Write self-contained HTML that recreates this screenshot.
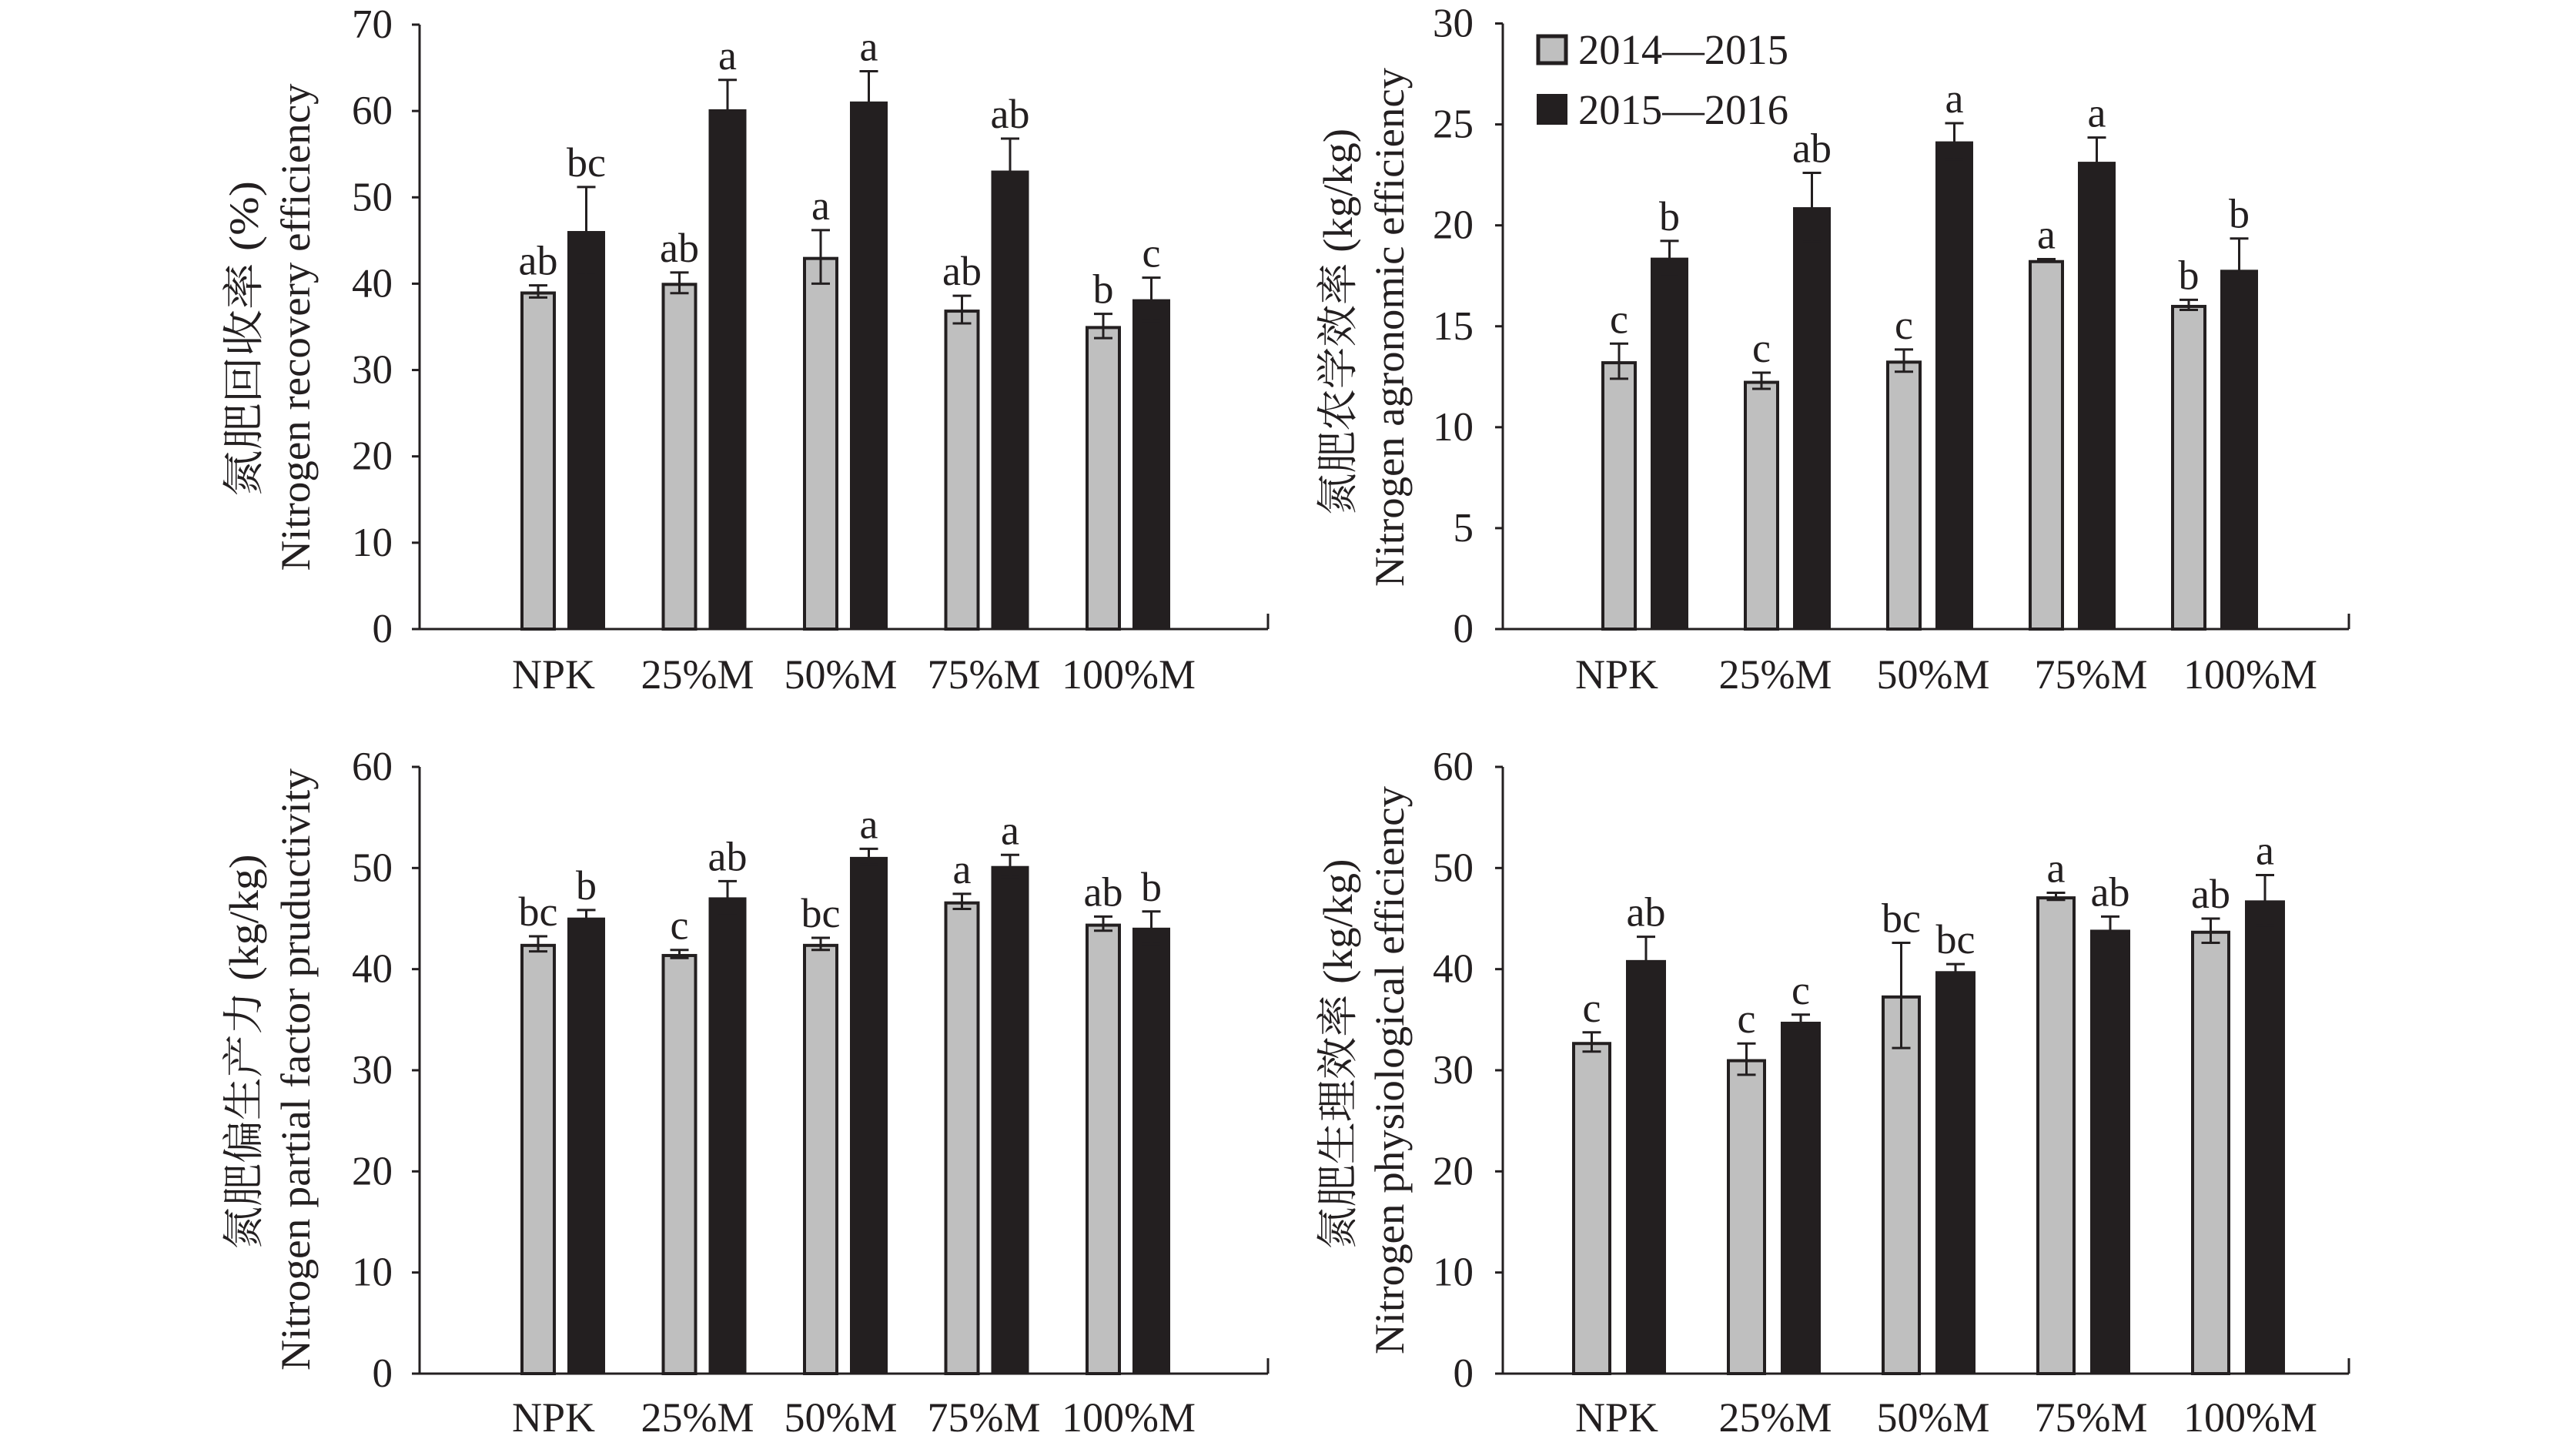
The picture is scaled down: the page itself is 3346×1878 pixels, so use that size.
<!DOCTYPE html>
<html><head><meta charset="utf-8"><style>
html,body{margin:0;padding:0;background:#fff;}
svg{display:block;}
text{font-family:"Liberation Serif","Noto Serif CJK SC",serif;fill:#231f20;}
</style></head><body>
<svg id="chart" xmlns="http://www.w3.org/2000/svg" width="3346" height="1878" viewBox="0 0 3346 1878">
<g>
<rect x="1998" y="47" width="36" height="35" fill="#bfbfbf" stroke="#231f20" stroke-width="5"/>
<text x="2050" y="83" font-size="55" textLength="273" lengthAdjust="spacingAndGlyphs">2014—2015</text>
<rect x="1996" y="122" width="40" height="40" fill="#231f20"/>
<text x="2050" y="161" font-size="55" textLength="273" lengthAdjust="spacingAndGlyphs">2015—2016</text>
</g>
</svg>
<script>
const categories = ["NPK","25%M","50%M","75%M","100%M"];
const series = ["2014—2015","2015—2016"];
// Panel A: nitrogen recovery efficiency (%)
const reGray = [39.1, 40.1, 43.1, 37.0, 35.1];
const reGrayErr = [0.7, 1.2, 3.1, 1.6, 1.4];
const reBlack = [46.1, 60.2, 61.1, 53.1, 38.2];
const reBlackErr = [5.1, 3.4, 3.5, 3.7, 2.5];
const reGrayLetters = ["ab","ab","a","ab","b"];
const reBlackLetters = ["bc","a","a","ab","c"];
const reTicks = [0,10,20,30,40,50,60,70];
// Panel B: agronomic efficiency
const aeGray = [13.27, 12.3, 13.3, 18.28, 16.06];
const aeGrayErr = [0.87, 0.4, 0.55, 0.05, 0.25];
const aeBlack = [18.4, 20.9, 24.16, 23.15, 17.8];
const aeBlackErr = [0.83, 1.7, 0.9, 1.2, 1.55];
const aeGrayLetters = ["c","c","c","a","b"];
const aeBlackLetters = ["b","ab","a","a","b"];
const aeTicks = [0,5,10,15,20,25,30];
// Panel C: partial factor productivity
const pfGray = [42.5, 41.5, 42.5, 46.7, 44.5];
const pfGrayErr = [0.75, 0.4, 0.6, 0.75, 0.7];
const pfBlack = [45.1, 47.1, 51.1, 50.2, 44.1];
const pfBlackErr = [0.75, 1.6, 0.8, 1.1, 1.6];
const pfGrayLetters = ["bc","c","bc","a","ab"];
const pfBlackLetters = ["b","ab","a","a","b"];
const pfTicks = [0,10,20,30,40,50,60];
// Panel D: physiological efficiency
const peGray = [32.8, 31.1, 37.4, 47.2, 43.8];
const peGrayErr = [0.95, 1.55, 5.2, 0.35, 1.2];
const peBlack = [40.9, 34.8, 39.8, 43.9, 46.8];
const peBlackErr = [2.3, 0.7, 0.7, 1.3, 2.5];
const peGrayLetters = ["c","c","bc","a","ab"];
const peBlackLetters = ["ab","c","bc","ab","a"];
const peTicks = [0,10,20,30,40,50,60];

const NS = "http://www.w3.org/2000/svg";
const svg = document.getElementById("chart");
function mk(tag, attrs, parent){
  const e = document.createElementNS(NS, tag);
  for (const k in attrs) e.setAttribute(k, attrs[k]);
  (parent||svg).appendChild(e);
  return e;
}
function panel(cfg){
  const g = mk("g", {});
  
  
  const maxV = cfg.ticks[cfg.ticks.length-1];
  const yS = v => cfg.y0 - (v/maxV)*(cfg.y0-cfg.yTop);
  const ya = mk("line", {x1:cfg.ax, y1:cfg.yTop, x2:cfg.ax, y2:cfg.y0+1.5, stroke:"#231f20","stroke-width":3}, g);
  
  
  const xa = mk("line", {x1:cfg.ax-1.5, y1:cfg.y0, x2:cfg.xEnd, y2:cfg.y0, stroke:"#231f20","stroke-width":3}, g);
  
  
  mk("line", {x1:cfg.xEnd, y1:cfg.y0, x2:cfg.xEnd, y2:cfg.y0-20, stroke:"#231f20","stroke-width":3}, g);
  cfg.ticks.forEach(t=>{
    const y = yS(t);
    mk("line", {x1:cfg.ax-10, y1:y, x2:cfg.ax, y2:y, stroke:"#231f20","stroke-width":3}, g);
    const tl = mk("text", {x:cfg.tickX, y:y, "font-size":53, "text-anchor":"end", "dominant-baseline":"central"}, g);
    tl.textContent = t;
    
    
  });
  categories.forEach((c,i)=>{
    const gl = cfg.gLeft + i*cfg.pitch;
    const bl = cfg.bLeft + i*cfg.pitch;
    const bars = [
      {x:gl, w:cfg.gW, v:cfg.gray[i], e:cfg.grayErr[i], l:cfg.grayL[i], gray:true},
      {x:bl, w:cfg.bW, v:cfg.black[i], e:cfg.blackErr[i], l:cfg.blackL[i], gray:false}
    ];
    bars.forEach(b=>{
      const yt = yS(b.v);
      let r;
      if (b.gray) r = mk("rect", {x:b.x+2, y:yt+2, width:b.w-4, height:cfg.y0-yt-2, fill:"#bfbfbf", stroke:"#231f20","stroke-width":4}, g);
      else r = mk("rect", {x:b.x, y:yt, width:b.w, height:cfg.y0-yt, fill:"#231f20"}, g);
      
      
      const cx = b.x + b.w/2, ye1 = yS(b.v+b.e), ye2 = yS(b.v-b.e);
      const eb = mk("path", {d:`M${cx},${ye1}V${ye2}M${cx-12},${ye1}H${cx+12}M${cx-12},${ye2}H${cx+12}`, stroke:"#231f20","stroke-width":3, fill:"none"}, g);
      
      
      const lt = mk("text", {x:cx, y:ye1-14, "font-size":54, "text-anchor":"middle"}, g);
      lt.textContent = b.l;
      
      
    });
    const xl = mk("text", {x:cfg.labelX[i], y:cfg.labelY, "font-size":54, "text-anchor":"middle"}, g);
    xl.textContent = c;
    
    
  });
  const t1 = mk("text", {transform:`translate(${cfg.cnX},${cfg.cnY}) rotate(-90)`, "font-size":54, "text-anchor":"middle", "dominant-baseline":"central", textLength:cfg.cnLen, lengthAdjust:"spacingAndGlyphs"}, g);
  t1.textContent = cfg.cnTitle;
  
  
  const t2 = mk("text", {transform:`translate(${cfg.enX},${cfg.enY}) rotate(-90)`, "font-size":54, "text-anchor":"middle", "dominant-baseline":"central", textLength:cfg.enLen, lengthAdjust:"spacingAndGlyphs"}, g);
  t2.textContent = cfg.enTitle;
  
  
}
const leftLabels = [719, 906, 1092, 1278, 1466];
const rightLabels = [2100, 2306, 2511, 2716, 2923];
panel({name:"panel-recovery-efficiency", ax:545, xEnd:1647, y0:817, yTop:32, ticks:reTicks, tickX:510,
  gLeft:676, gW:46, bLeft:737, bW:49, pitch:183.5,
  gray:reGray, grayErr:reGrayErr, black:reBlack, blackErr:reBlackErr, grayL:reGrayLetters, blackL:reBlackLetters,
  labelX:leftLabels, labelY:894,
  cnTitle:"氮肥回收率 (%)", cnX:317, cnY:440, cnLen:410,
  enTitle:"Nitrogen recovery efficiency", enX:384, enY:425, enLen:633});
panel({name:"panel-agronomic-efficiency", ax:1952, xEnd:3051, y0:817, yTop:30.5, ticks:aeTicks, tickX:1914,
  gLeft:2080, gW:46, bLeft:2144, bW:49, pitch:185,
  gray:aeGray, grayErr:aeGrayErr, black:aeBlack, blackErr:aeBlackErr, grayL:aeGrayLetters, blackL:aeBlackLetters,
  labelX:rightLabels, labelY:894,
  cnTitle:"氮肥农学效率 (kg/kg)", cnX:1738, cnY:418, cnLen:502,
  enTitle:"Nitrogen agronomic efficiency", enX:1805, enY:425, enLen:674});
panel({name:"panel-partial-factor-productivity", ax:545, xEnd:1647, y0:1784, yTop:996, ticks:pfTicks, tickX:510,
  gLeft:676, gW:46, bLeft:737, bW:49, pitch:183.5,
  gray:pfGray, grayErr:pfGrayErr, black:pfBlack, blackErr:pfBlackErr, grayL:pfGrayLetters, blackL:pfBlackLetters,
  labelX:leftLabels, labelY:1859,
  cnTitle:"氮肥偏生产力 (kg/kg)", cnX:317, cnY:1366, cnLen:513,
  enTitle:"Nitrogen partial factor pruductivity", enX:384, enY:1389, enLen:782});
panel({name:"panel-physiological-efficiency", ax:1952, xEnd:3051, y0:1784, yTop:996, ticks:peTicks, tickX:1914,
  gLeft:2042, gW:51, bLeft:2112, bW:52, pitch:201,
  gray:peGray, grayErr:peGrayErr, black:peBlack, blackErr:peBlackErr, grayL:peGrayLetters, blackL:peBlackLetters,
  labelX:rightLabels, labelY:1859,
  cnTitle:"氮肥生理效率 (kg/kg)", cnX:1738, cnY:1369, cnLen:507,
  enTitle:"Nitrogen physiological efficiency", enX:1805, enY:1390, enLen:738});
</script>
</body></html>
